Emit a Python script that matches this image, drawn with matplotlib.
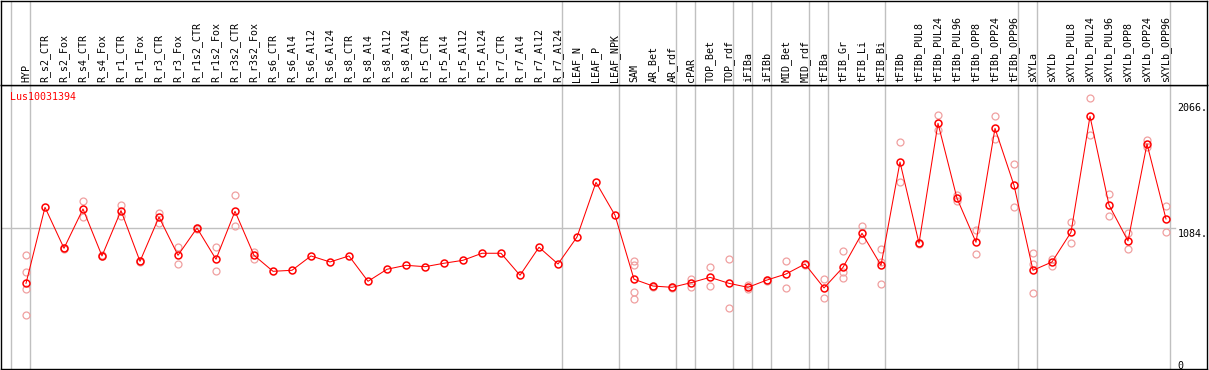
import matplotlib
matplotlib.use("Agg")
import matplotlib.pyplot as plt

labels = ["HYP", "R_s2_CTR", "R_s2_Fox", "R_s4_CTR", "R_s4_Fox", "R_r1_CTR", "R_r1_Fox",
          "R_r3_CTR", "R_r3_Fox", "R_r1s2_CTR", "R_r1s2_Fox", "R_r3s2_CTR", "R_r3s2_Fox",
          "R_s6_CTR", "R_s6_Al4", "R_s6_Al12", "R_s6_Al24", "R_s8_CTR", "R_s8_Al4",
          "R_s8_Al12", "R_s8_Al24", "R_r5_CTR", "R_r5_Al4", "R_r5_Al12", "R_r5_Al24",
          "R_r7_CTR", "R_r7_Al4", "R_r7_Al12", "R_r7_Al24", "LEAF_N", "LEAF_P", "LEAF_NPK",
          "SAM", "AR_Bet", "AR_rdf", "cPAR", "TOP_Bet", "TOP_rdf", "iFIBa", "iFIBb",
          "MID_Bet", "MID_rdf", "tFIBa", "tFIB_Gr", "tFIB_Li", "tFIB_Bi", "tFIBb",
          "tFIBb_PUL8", "tFIBb_PUL24", "tFIBb_PUL96", "tFIBb_OPP8", "tFIBb_OPP24",
          "tFIBb_OPP96", "sXYLa", "sXYLb", "sXYLb_PUL8", "sXYLb_PUL24", "sXYLb_PUL96",
          "sXYLb_OPP8", "sXYLb_OPP24", "sXYLb_OPP96"]

means = [654, 1248, 928, 1235, 868, 1222, 826, 1172, 873, 1086, 842, 1217, 873,
         748, 756, 868, 821, 868, 670, 764, 795, 784, 811, 834, 889, 889, 717, 936, 805,
         1016, 1443, 1186,
         686, 633, 623, 659, 701, 654, 623, 680, 727, 805, 618, 779, 1045, 795, 1602,
         967, 1904, 1318, 975, 1865, 1420, 756, 821, 1053, 1959, 1266, 985, 1743, 1157]

replicates = [
    [875, 742, 607, 404], [], [924, 932], [1297, 1170], [864, 872], [1266, 1180], [822, 830],
    [1206, 1128], [938, 805], [1082, 1090], [936, 748], [1342, 1102], [899, 846],
    [], [], [], [], [], [], [], [], [], [], [], [], [], [], [], [], [], [], [],
    [831, 795, 586, 534], [629, 637], [619, 627], [690, 623], [779, 633], [842, 459],
    [612, 639], [676, 684], [826, 615], [801, 809], [690, 537], [904, 743, 693],
    [1102, 993], [920, 821, 647], [1756, 1443],
    [963, 971], [1967, 1850], [1342, 1300], [1071, 881], [1959, 1779], [1586, 1248],
    [889, 805, 576], [847, 792], [1131, 971], [2100, 1813], [1350, 1180], [1050, 922],
    [1774, 1717], [1258, 1055],
]

# last column of each group, a grey separator is drawn just after it
group_ends = [-1, 0, 28, 31, 34, 35, 37, 38, 39, 41, 42, 45, 52, 53, 60]
gene = "Lus10031394"
ref_value = 1084
tick_values = [2066, 1084, 0]

W, H = 1209, 370
grey = "#c0c0c0"
pink = "#f0a0a0"
mono = "DejaVu Sans Mono"

fig = plt.figure(figsize=(W / 100, H / 100), dpi=100)
ax = fig.add_axes([1 / W, 1 / H, 1206 / W, 284 / H])
hax = fig.add_axes([1 / W, 285 / H, 1206 / W, 84.5 / H], sharex=ax)

x = list(range(len(labels)))

for ix in group_ends:
    ax.axvline(ix + 0.22, color=grey, lw=1, zorder=0)
    hax.axvline(ix + 0.22, color=grey, lw=1, zorder=0)

xr = (1175 - 26) / 19
ax.plot([-1.4, xr], [ref_value, ref_value], color=grey, lw=1, zorder=0)

for i, reps in enumerate(replicates):
    if reps:
        ax.plot([i] * len(reps), reps, linestyle="none", marker="o", ms=5.0,
                mfc="none", mec=pink, mew=0.9, zorder=2)

ax.plot(x, means, color="red", lw=0.75, marker="o", ms=5.0, mfc="none",
        mec="red", mew=1.1, zorder=3)

ax.set_xlim((1 - 26) / 19, (1207 - 26) / 19)
ax.set_ylim(-15.2, 2203.5)
hax.set_ylim(0, 1)
for a in (ax, hax):
    a.set_xticks([])
    a.set_yticks([])
    for s in a.spines.values():
        s.set_color("black")
        s.set_linewidth(1.0)

for i, lab in enumerate(labels):
    hax.text(i, 0.035, lab, rotation=90, ha="center", va="bottom",
             fontsize=7.2, family=mono)

ax.text(10 / W, 1 - 92.5 / H, gene, transform=fig.transFigure, color="red",
        fontsize=7.2, family=mono, va="top", ha="left")

tick_tops = [103.3, 229, 360.7]
for v, ty in zip(tick_values, tick_tops):
    txt = f"{v}." if v else "0"
    fig.text(1177.5 / W, 1 - ty / H, txt, fontsize=7.2, family=mono,
             va="top", ha="left")

fig.savefig("out.png", dpi=100)
